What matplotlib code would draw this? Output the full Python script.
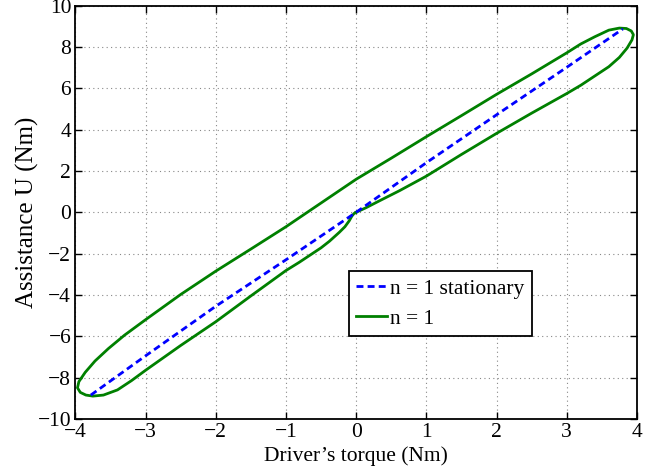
import matplotlib.pyplot as plt

# stationary curve (n = 1 stationary)
stat_torque = [-3.78, -3.0, -2.0, -1.0, 0.0, 1.0, 2.0, 3.0, 3.80]
stat_assist = [-8.85, -6.95, -4.55, -2.30, 0.0, 2.40, 4.72, 7.02, 8.88]

# loop (n = 1), traced from the origin: lower right -> tip -> upper -> tip -> lower left
loop_torque = [0.0, 0.05, 0.14, 0.3, 0.62, 1.0, 1.5, 2.0, 2.5, 3.0, 3.2, 3.4, 3.6, 3.75,
               3.86, 3.93, 3.95, 3.92, 3.85, 3.75, 3.6, 3.4, 3.2, 3.0, 2.5, 2.0, 1.5, 1.0,
               0.5, 0.0, -0.5, -1.0, -1.5, -2.0, -2.5, -3.0, -3.3, -3.53, -3.72, -3.86,
               -3.95, -3.97, -3.93, -3.85, -3.75, -3.6, -3.4, -3.2, -3.0, -2.5, -2.0, -1.5,
               -1.0, -0.81, -0.5, -0.38, -0.24, -0.16, -0.1, -0.06, -0.03, 0.0]
loop_assist = [0.0, 0.08, 0.22, 0.5, 1.05, 1.75, 2.8, 3.82, 4.8, 5.75, 6.15, 6.6, 7.05, 7.5,
               7.95, 8.35, 8.6, 8.78, 8.9, 8.92, 8.82, 8.5, 8.15, 7.72, 6.7, 5.71, 4.68, 3.66,
               2.62, 1.6, 0.45, -0.7, -1.78, -2.85, -3.98, -5.2, -5.95, -6.6, -7.2, -7.75,
               -8.2, -8.5, -8.72, -8.85, -8.9, -8.85, -8.6, -8.15, -7.65, -6.45, -5.3, -4.05,
               -2.82, -2.42, -1.72, -1.4, -0.97, -0.7, -0.42, -0.18, -0.06, 0.0]

x_ticks = [-4, -3, -2, -1, 0, 1, 2, 3, 4]
y_ticks = [-10, -8, -6, -4, -2, 0, 2, 4, 6, 8, 10]


def main():
    plt.rcParams['font.family'] = ['Liberation Serif', 'DejaVu Serif']
    plt.rcParams['font.size'] = 15.5

    fig = plt.figure(figsize=(6.6, 4.7), dpi=100)
    ax = fig.add_axes([0.1142, 0.1089, 0.8508, 0.8788])

    ax.plot(stat_torque, stat_assist, color='#0000ff', linestyle=(0, (2.5, 1.5)),
            linewidth=2, label='n = 1 stationary', zorder=3)
    ax.plot(loop_torque, loop_assist, color='#008000', linewidth=2,
            label='n = 1', zorder=2)

    ax.set_xlim(-4, 4)
    ax.set_ylim(-10, 10)
    ax.set_xticks(x_ticks)
    ax.set_yticks(y_ticks)
    ax.grid(True, linestyle=(0, (1, 3)), color='#888888', linewidth=0.8)
    ax.tick_params(direction='in', top=True, right=True, length=5, width=1, pad=3)
    for sp in ax.spines.values():
        sp.set_linewidth(1.3)

    ax.set_xlabel("Driver\u2019s torque (Nm)", labelpad=3)
    ax.set_ylabel('Assistance U (Nm)', fontsize=18, labelpad=-1)

    leg = ax.legend(loc='lower left', bbox_to_anchor=(0.487, 0.2), fancybox=False,
                    edgecolor='black', framealpha=1, handlelength=1.4,
                    handletextpad=0.15, borderpad=0.35, labelspacing=0.45,
                    borderaxespad=0)
    leg.get_frame().set_linewidth(1.3)

    fig.savefig('out.png', dpi=100)


if __name__ == "__main__":
    main()
